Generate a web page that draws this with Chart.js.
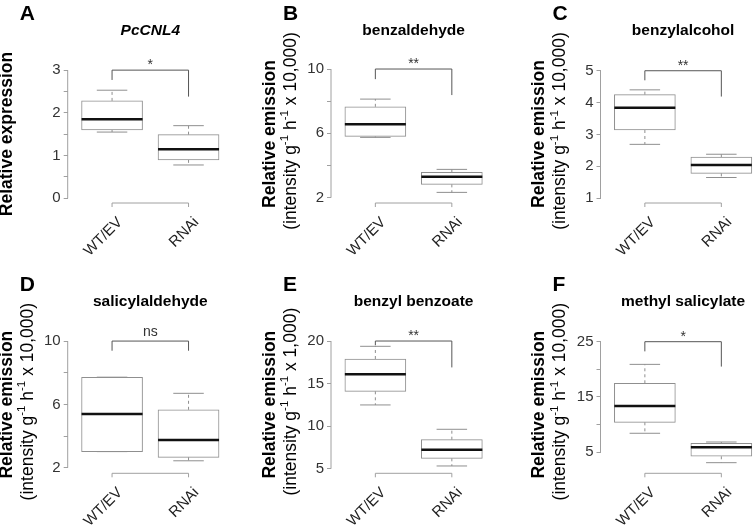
<!DOCTYPE html>
<html>
<head>
<meta charset="utf-8">
<script src="https://cdn.jsdelivr.net/npm/chart.js@4.4.1/dist/chart.umd.min.js"></script>
<style>
  html, body { margin: 0; padding: 0; background: #fff; width: 753px; height: 527px; overflow: hidden; }
  canvas { position: absolute; }
</style>
</head>
<body>
<script>
// Datos (boxplots WT/EV vs RNAi)
const categories = ['WT/EV', 'RNAi'];
const letters = ['A', 'B', 'C', 'D', 'E', 'F'];
const titles = ['PcCNL4', 'benzaldehyde', 'benzylalcohol', 'salicylaldehyde', 'benzyl benzoate', 'methyl salicylate'];
const unitFactor = [null, '10,000', '10,000', '10,000', '1,000', '10,000'];

// [min, q1, mediana, q3, max]
const wtStats = [
  [1.55, 1.60, 1.85, 2.28, 2.53],
  [5.75, 5.81, 6.56, 7.65, 8.13],
  [2.69, 3.14, 3.84, 4.25, 4.40],
  [3.02, 3.02, 5.39, 7.71, 7.72],
  [12.49, 14.09, 16.09, 17.89, 19.38],
  [8.44, 10.42, 13.37, 17.48, 20.90]
];
const rnaiStats = [
  [0.78, 0.90, 1.15, 1.49, 1.70],
  [2.33, 2.83, 3.30, 3.58, 3.76],
  [1.65, 1.78, 2.04, 2.29, 2.38],
  [2.44, 2.66, 3.75, 5.66, 6.70],
  [5.32, 6.22, 7.23, 8.41, 9.63],
  [3.12, 4.28, 5.90, 6.63, 6.86]
];

const yTicks = [
  [0, 0.5, 1, 1.5, 2, 2.5, 3],
  [2, 4, 6, 8, 10],
  [1, 2, 3, 4, 5],
  [2, 4, 6, 8, 10],
  [5, 10, 15, 20],
  [5, 10, 15, 20, 25]
];
const yTickLabels = [
  ['0', '', '1', '', '2', '', '3'],
  ['2', '', '6', '', '10'],
  ['1', '2', '3', '4', '5'],
  ['2', '', '6', '', '10'],
  ['5', '10', '15', '20'],
  ['5', '', '15', '', '25']
];
const yLimits = [[-0.11, 3.12], [1.67, 10.25], [0.85, 5.18], [1.65, 10.32], [4.46, 20.59], [1.2, 26.03]];

// Corchete de significancia: etiqueta y fin de las patas
const sigLabels = ['*', '**', '**', 'ns', '**', '*'];
const sigLegLeft = [2.77, 9.37, 4.7, 9.39, 19.5, 23.25];
const sigLegRight = [2.38, 8.38, 4.19, 9.39, 16.9, 20.5];

// Layout
const FONT = "'Liberation Sans', Arial, sans-serif";
const colX = [0, 250, 500], rowY = [0, 260];
const axisX = [67.7, 331, 600.5];
const plotTop = [65, 336], plotBottom = [203, 473.3];
const CW = 270, CH = [262, 267], YW = 30, PLOT_W = 165.2, BOX_W = 61;
const GREY = '#8f8f8f';

function line(ctx, x1, y1, x2, y2) {
  ctx.beginPath(); ctx.moveTo(x1, y1); ctx.lineTo(x2, y2); ctx.stroke();
}

function supText(ctx, parts, x, y) {
  // parts: [texto, esSuperíndice]; centrado en (x, y), ya rotado
  const big = `17.5px ${FONT}`, small = `11.5px ${FONT}`;
  let w = 0;
  parts.forEach(([t, s]) => { ctx.font = s ? small : big; w += ctx.measureText(t).width; });
  let cx = x - w / 2;
  ctx.textAlign = 'left';
  ctx.textBaseline = 'middle';
  parts.forEach(([t, s]) => {
    ctx.font = s ? small : big;
    ctx.fillText(t, cx, s ? y - 6 : y);
    cx += ctx.measureText(t).width;
  });
}

const decor = i => ({
  id: 'decor' + i,
  beforeDatasetsDraw(chart) {
    const { ctx, scales: { x, y } } = chart;
    ctx.save();
    ctx.strokeStyle = GREY;
    ctx.lineWidth = 1;
    [wtStats[i], rnaiStats[i]].forEach((s, k) => {
      const cx = x.getPixelForValue(k + 1);
      ctx.setLineDash([3, 3]);
      line(ctx, cx, y.getPixelForValue(s[3]), cx, y.getPixelForValue(s[4]));
      line(ctx, cx, y.getPixelForValue(s[1]), cx, y.getPixelForValue(s[0]));
      ctx.setLineDash([]);
      line(ctx, cx - BOX_W / 4, y.getPixelForValue(s[4]), cx + BOX_W / 4, y.getPixelForValue(s[4]));
      line(ctx, cx - BOX_W / 4, y.getPixelForValue(s[0]), cx + BOX_W / 4, y.getPixelForValue(s[0]));
    });
    ctx.restore();
  },
  afterDatasetsDraw(chart) {
    const { ctx, chartArea: a, scales: { x, y } } = chart;
    const c1 = x.getPixelForValue(1), c2 = x.getPixelForValue(2);
    ctx.save();
    // medianas
    ctx.strokeStyle = '#111';
    ctx.lineWidth = 2.5;
    [wtStats[i], rnaiStats[i]].forEach((s, k) => {
      const cx = x.getPixelForValue(k + 1);
      line(ctx, cx - BOX_W / 2, y.getPixelForValue(s[2]), cx + BOX_W / 2, y.getPixelForValue(s[2]));
    });
    // eje y (solo entre primer y último tick)
    ctx.lineWidth = 1;
    ctx.strokeStyle = '#a0a0a0';
    const t = yTicks[i];
    line(ctx, a.left, y.getPixelForValue(t[0]), a.left, y.getPixelForValue(t[t.length - 1]));
    // eje x tipo R
    line(ctx, c1, a.bottom, c2, a.bottom);
    line(ctx, c1, a.bottom, c1, a.bottom + 4);
    line(ctx, c2, a.bottom, c2, a.bottom + 4);
    // corchete significancia
    ctx.strokeStyle = '#555';
    const yt = y.getPixelForValue(t[t.length - 1]);
    ctx.beginPath();
    ctx.moveTo(c1, y.getPixelForValue(sigLegLeft[i]));
    ctx.lineTo(c1, yt); ctx.lineTo(c2, yt);
    ctx.lineTo(c2, y.getPixelForValue(sigLegRight[i]));
    ctx.stroke();
    ctx.fillStyle = '#333';
    ctx.font = `14px ${FONT}`;
    ctx.textAlign = 'center';
    ctx.textBaseline = 'alphabetic';
    ctx.fillText(sigLabels[i], (c1 + c2) / 2, sigLabels[i] === 'ns' ? yt - 5 : yt - 1);
    ctx.restore();
  },
  afterDraw(chart) {
    const { ctx, chartArea: a, scales: { x } } = chart;
    ctx.save();
    ctx.fillStyle = '#000';
    // letra del panel
    ctx.font = `bold 21px ${FONT}`;
    ctx.textAlign = 'left';
    ctx.textBaseline = 'middle';
    ctx.fillText(letters[i], a.left - 48, a.top - 51);
    // título
    ctx.font = `${i === 0 ? 'italic ' : ''}bold 15.5px ${FONT}`;
    ctx.textAlign = 'center';
    ctx.fillText(titles[i], (a.left + a.right) / 2, a.top - 34);
    // etiqueta eje y
    const my = (a.top + a.bottom) / 2;
    ctx.save();
    ctx.translate(a.left - 61, my);
    ctx.rotate(-Math.PI / 2);
    ctx.font = `bold 17.5px ${FONT}`;
    ctx.textAlign = 'center';
    ctx.fillText(i === 0 ? 'Relative expression' : 'Relative emission', 0, 0);
    ctx.restore();
    if (unitFactor[i]) {
      ctx.save();
      ctx.translate(a.left - 40, my - 3);
      ctx.rotate(-Math.PI / 2);
      supText(ctx, [['(intensity g', false], ['-1', true], [' h', false], ['-1', true], [' x ' + unitFactor[i] + ')', false]], 0, 0);
      ctx.restore();
    }
    // etiquetas categorías rotadas
    ctx.font = `15px ${FONT}`;
    ctx.fillStyle = '#222';
    categories.forEach((c, k) => {
      ctx.save();
      ctx.translate(x.getPixelForValue(k + 1) + 8, a.bottom + 17);
      ctx.rotate(-Math.PI / 4);
      ctx.textAlign = 'right';
      ctx.textBaseline = 'middle';
      ctx.fillText(c, 0, 0);
      ctx.restore();
    });
    ctx.restore();
  }
});

letters.forEach((_, i) => {
  const col = i % 3, row = Math.floor(i / 3);
  const cv = document.createElement('canvas');
  cv.width = CW; cv.height = CH[row];
  cv.style.left = colX[col] + 'px';
  cv.style.top = rowY[row] + 'px';
  document.body.appendChild(cv);
  const left = axisX[col] - colX[col];
  new Chart(cv, {
    type: 'bar',
    data: {
      datasets: [{
        data: [wtStats[i], rnaiStats[i]].map((s, k) => ({ x: k + 1, y: [s[1], s[3]] })),
        backgroundColor: '#fff',
        borderColor: GREY,
        borderWidth: 1,
        borderSkipped: false,
        barThickness: BOX_W
      }]
    },
    options: {
      responsive: false,
      animation: false,
      events: [],
      layout: {
        padding: {
          left: left - YW,
          right: CW - left - PLOT_W,
          top: plotTop[row] - rowY[row],
          bottom: CH[row] - (plotBottom[row] - rowY[row])
        }
      },
      plugins: { legend: { display: false }, tooltip: { enabled: false } },
      scales: {
        x: { type: 'linear', min: 0.42, max: 2.58, offset: false, display: false },
        y: {
          min: yLimits[i][0],
          max: yLimits[i][1],
          afterBuildTicks: s => { s.ticks = yTicks[i].map(v => ({ value: v })); },
          afterFit: s => { s.width = YW; },
          grid: { drawOnChartArea: false, drawTicks: true, tickLength: 4, color: '#a0a0a0' },
          border: { display: false },
          ticks: {
            autoSkip: false,
            padding: 3,
            color: '#333',
            font: { size: 15, family: FONT },
            callback: (v, idx) => yTickLabels[i][idx]
          }
        }
      }
    },
    plugins: [decor(i)]
  });
});
</script>
</body>
</html>
